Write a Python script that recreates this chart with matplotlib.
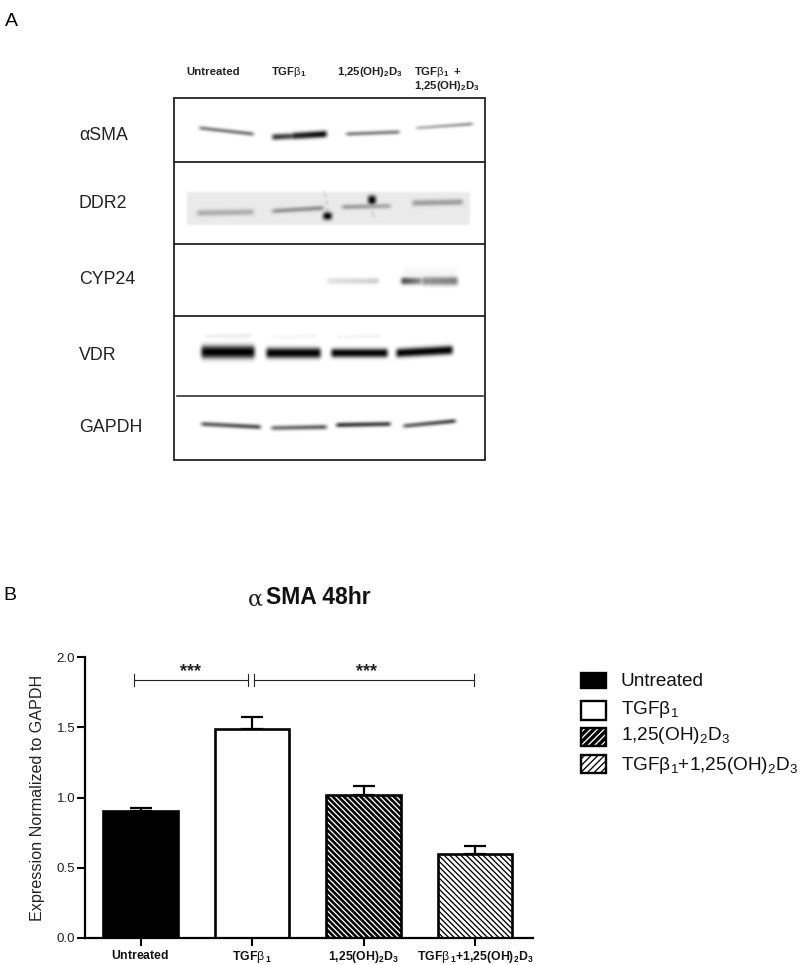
import numpy as np
import matplotlib
matplotlib.use("Agg")
import matplotlib.pyplot as plt
from matplotlib.patches import Rectangle

plt.rcParams["font.family"] = ["Liberation Sans", "DejaVu Sans"]
plt.rcParams["mathtext.fontset"] = "custom"
plt.rcParams["mathtext.rm"] = "Liberation Sans"
plt.rcParams["mathtext.it"] = "Liberation Sans"
plt.rcParams["mathtext.bf"] = "Liberation Sans:bold"
plt.rcParams["mathtext.default"] = "rm"
plt.rcParams["hatch.linewidth"] = 0.95

W, H = 800, 965

# bar chart data
categories = ["Untreated", r"TGF$\beta_1$", r"1,25(OH)$_2$D$_3$", r"TGF$\beta_1$+1,25(OH)$_2$D$_3$"]
cat_labels = [r"$\mathbf{Untreated}$", r"$\mathbf{TGF}$$\beta$$\,_{\mathbf{1}}$",
              r"$\mathbf{1{,}25(OH)_2D_3}$", r"$\mathbf{TGF}$$\beta$$\,_{\mathbf{1}}$$\mathbf{+1{,}25(OH)_2D_3}$"]
values = [0.905, 1.485, 1.02, 0.60]
err_up = [0.02, 0.085, 0.065, 0.055]
y_ticks = [0.0, 0.5, 1.0, 1.5, 2.0]

# blot rows and lane headers
row_names = ["αSMA", "DDR2", "CYP24", "VDR", "GAPDH"]
row_label_y = [136, 204, 279, 355, 428]
lane_names = ["Untreated", r"$\mathbf{TGF}$$\beta$$_{\mathbf{1}}$", r"$\mathbf{1{,}25(OH)_2D_3}$",
              r"$\mathbf{TGF}$$\beta$$_{\mathbf{1}}$$\mathbf{\ +}$"]
lane_name_x = [186, 271, 337, 414]

# bands: x0, y0, x1, y1, darkness at x0, darkness at x1, half thickness
asma_bands = [(200, 128, 253, 134, 0.5, 0.55, 2.0), (273, 137, 296, 136, 0.8, 0.7, 3.0),
              (292, 136, 326, 134, 0.85, 1.0, 3.4), (347, 134, 399, 132, 0.5, 0.5, 2.0),
              (417, 128, 472, 124, 0.28, 0.42, 1.8)]
ddr2_bands = [(198, 213, 253, 212, 0.24, 0.24, 3.0), (273, 211, 323, 208, 0.33, 0.36, 2.4),
              (343, 207, 390, 206, 0.32, 0.26, 2.4), (413, 203, 462, 202, 0.3, 0.3, 3.0),
              (324, 216, 331, 216, 0.95, 0.95, 3.8), (369, 200, 375, 200, 1.0, 1.0, 4.5),
              (325, 192, 328, 213, 0.3, 0.6, 1.4), (371, 203, 373, 216, 0.5, 0.2, 2.0)]
cyp24_bands = [(328, 281, 378, 281, 0.12, 0.2, 3.0), (402, 281, 422, 281, 0.75, 0.42, 3.6),
               (422, 281, 457, 281, 0.42, 0.52, 4.4), (404, 274, 456, 274, 0.04, 0.04, 7.0)]
vdr_bands = [(202, 352, 254, 352, 1.0, 1.0, 6.4), (267, 353, 320, 353, 1.0, 1.0, 5.2),
             (332, 353, 387, 353, 1.0, 1.0, 4.4), (397, 353, 452, 350, 1.0, 1.0, 4.4),
             (205, 336, 250, 336, 0.05, 0.08, 2.5), (272, 337, 316, 336, 0.03, 0.05, 2.0),
             (338, 337, 380, 336, 0.04, 0.05, 2.0)]
gapdh_bands = [(202, 424, 260, 427, 0.62, 0.7, 2.3), (272, 428, 326, 427, 0.55, 0.65, 2.3),
               (337, 425, 390, 424, 0.8, 0.75, 2.3), (404, 426, 455, 421, 0.6, 0.75, 2.2)]
all_bands = asma_bands + ddr2_bands + cyp24_bands + vdr_bands + gapdh_bands


def blur(img, sigma):
    # separable gaussian, enough for the soft film look
    r = int(3 * sigma) + 1
    k = np.exp(-0.5 * (np.arange(-r, r + 1) / sigma) ** 2)
    k /= k.sum()
    img = np.apply_along_axis(lambda v: np.convolve(np.pad(v, r, mode="edge"), k, mode="valid"), 0, img)
    return np.apply_along_axis(lambda v: np.convolve(np.pad(v, r, mode="edge"), k, mode="valid"), 1, img)


def render_blot(x0, x1, y0, y1):
    xx, yy = np.meshgrid(np.arange(x0, x1) + 0.5, np.arange(y0, y1) + 0.5)
    dark = np.zeros_like(xx)
    # faint membrane strip behind DDR2
    strip = (np.clip((xx - 186) / 2, 0, 1) * np.clip((471 - xx) / 2, 0, 1)
             * np.clip((yy - 191) / 2, 0, 1) * np.clip((226 - yy) / 2, 0, 1))
    for bx0, by0, bx1, by1, d0, d1, th in all_bands:
        t = np.clip((xx - bx0) / max(bx1 - bx0, 1), 0, 1)
        centre = by0 + t * (by1 - by0)
        across = np.exp(-np.abs((yy - centre) / th) ** 2.5)
        along = np.clip((xx - bx0 + 3) / 5, 0, 1) * np.clip((bx1 - xx + 3) / 5, 0, 1)
        dark = np.maximum(dark, (d0 + t * (d1 - d0)) * across * along)
    dark = np.clip(dark + 0.085 * strip, 0, 1)
    return 1 - blur(dark, 1.0)


fig = plt.figure(figsize=(W / 100, H / 100), dpi=100)

# full-figure axes in pixel units, for panel A and the hand-spaced legend
bg = fig.add_axes([0, 0, 1, 1])
bg.axis("off")

bg.text(5, 22, "A", fontsize=14, ha="left", va="center")
bg.text(3, 596, "B", fontsize=14, ha="left", va="center")

blot = render_blot(174, 485, 98, 460)
bg.imshow(blot, cmap="gray", vmin=0, vmax=1, extent=(174, 485, 460, 98), interpolation="bilinear", aspect="auto")
bg.set_xlim(0, W)
bg.set_ylim(H, 0)
bg.add_patch(Rectangle((174, 98), 311, 362, fill=False, ec="#222222", lw=1.3))
for y in [162, 244, 316]:
    bg.plot([174, 485], [y, y], color="#222222", lw=1.3)
bg.plot([177, 483], [396, 396], color="#222222", lw=1.1)

for name, y in zip(row_names, row_label_y):
    bg.text(79, y, name, fontsize=12.8, ha="left", va="center", color="#222222")
for name, x in zip(lane_names, lane_name_x):
    bg.text(x, 72, name, fontsize=8.2, fontweight="bold", ha="left", va="center", color="#222222")
bg.text(414, 86, r"$\mathbf{1{,}25(OH)_2D_3}$", fontsize=8.2, ha="left", va="center", color="#222222")

# legend swatches
swatch_y = [(673, 688), (701, 720), (728, 746), (755, 773)]
legend_text_y = [681, 709, 736, 765]
for i, ((y0, y1), label, ty) in enumerate(zip(swatch_y, categories, legend_text_y)):
    face = ["black", "white", "black", "white"][i]
    hatch_col = ["black", "black", "white", "black"][i]
    bg.add_patch(Rectangle((581, y0), 25, y1 - y0, facecolor=face, edgecolor=hatch_col,
                           hatch=None if i < 2 else "/////", lw=0))
    bg.add_patch(Rectangle((581, y0), 25, y1 - y0, fill=False, edgecolor="black", lw=1.7))
    bg.text(621, ty, label, fontsize=13.7, ha="left", va="center", color="#111111")

# bar chart panel
left, right, top, bottom = 85, 533, 657, 938
ax = fig.add_axes([left / W, 1 - bottom / H, (right - left) / W, (bottom - top) / H])
ax.patch.set_alpha(0)
x_pos = np.arange(len(values))
faces = ["black", "white", "black", "white"]
hatch_cols = ["black", "white", "white", "black"]
hatches = [None, None, "\\" * 6, "\\" * 6]
for x, val, face, hcol, hatch in zip(x_pos, values, faces, hatch_cols, hatches):
    ax.bar(x, val, width=0.665, color=face, edgecolor=hcol, hatch=hatch, lw=0, zorder=2)
    ax.bar(x, val, width=0.665, fill=False, edgecolor="black", lw=1.9, zorder=3)
ax.errorbar(x_pos, values, yerr=[np.zeros(len(values)), err_up], fmt="none", ecolor="black",
            elinewidth=1.6, capsize=8, capthick=1.6, zorder=1)

ax.set_xlim(-0.498, 3.52)
ax.set_ylim(0, 2.0)
ax.set_xticks(x_pos)
ax.set_xticklabels(cat_labels, fontsize=8.8, color="#111111")
ax.set_yticks(y_ticks)
ax.set_yticklabels([f"{t:.1f}" for t in y_ticks], fontsize=9.6, color="#222222")
ax.tick_params(axis="y", length=6, width=1.5, pad=1)
ax.tick_params(axis="x", length=6, width=1.5, pad=1.8)
ax.set_ylabel("Expression Normalized to GAPDH", fontsize=11.6, color="#222222", labelpad=8)
ax.spines["top"].set_visible(False)
ax.spines["right"].set_visible(False)
ax.spines["left"].set_linewidth(1.6)
ax.spines["bottom"].set_linewidth(1.6)

# significance brackets
for x0, x1, y_mid, star_x in [(134, 248, 680, 191), (254, 474, 680, 366)]:
    bg.plot([x0, x1], [y_mid, y_mid], color="#222222", lw=0.8)
    bg.plot([x0, x0], [y_mid - 6, y_mid + 6], color="#222222", lw=0.8)
    bg.plot([x1, x1], [y_mid - 6, y_mid + 6], color="#222222", lw=0.8)
    bg.text(star_x, 672, "***", fontsize=13, fontweight="bold", ha="center", va="center", color="#222222")

# title, alpha set apart from the bold part
bg.text(248, 600, "α", fontsize=16, family="DejaVu Serif", ha="left", va="center", color="#222222")
bg.text(266, 598, "SMA 48hr", fontsize=16.5, fontweight="bold", ha="left", va="center", color="#111111")

fig.savefig("out.png", dpi=100)
plt.close(fig)
